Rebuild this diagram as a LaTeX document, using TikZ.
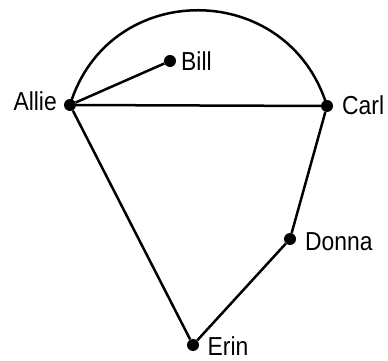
\documentclass[tikz,border=0pt]{standalone}
\usepackage{fontspec}
\newfontfamily\lblfont[FakeStretch=0.88]{Liberation Sans}
\begin{document}
\begin{tikzpicture}[x=1pt,y=1pt,
  dot/.style={circle,fill=black,inner sep=0pt,minimum size=12pt},
  lbl/.style={font=\lblfont\fontsize{26}{28}\selectfont,inner sep=0pt},
  edge/.style={line width=2.5pt}]
\useasboundingbox (0,0) rectangle (388,361);
\node[dot] (Allie) at (70,256) {};
\node[dot] (Bill) at (170,300) {};
\node[dot] (Carl) at (327,255) {};
\node[dot] (Donna) at (290,122) {};
\node[dot] (Erin) at (193,16) {};
\node[lbl,anchor=east] (lA) at (57,259.5) {Allie};
\node[lbl,anchor=west] (lB) at (181,300) {Bill};
\node[lbl,anchor=west] (lC) at (342,255.5) {Carl};
\node[lbl,anchor=west] (lD) at (305,119.5) {Donna};
\node[lbl,anchor=west] (lE) at (207.5,14.5) {Erin};
\draw[edge] (Allie) -- (Bill);
\draw[edge] (Allie) -- (Carl);
\draw[edge] (Allie) -- (Erin);
\draw[edge] (Erin) -- (Donna);
\draw[edge] (Donna) -- (Carl);
\draw[edge] (Allie.center) to[out=73,in=107,looseness=1.32] (Carl.center);
\end{tikzpicture}
\end{document}
